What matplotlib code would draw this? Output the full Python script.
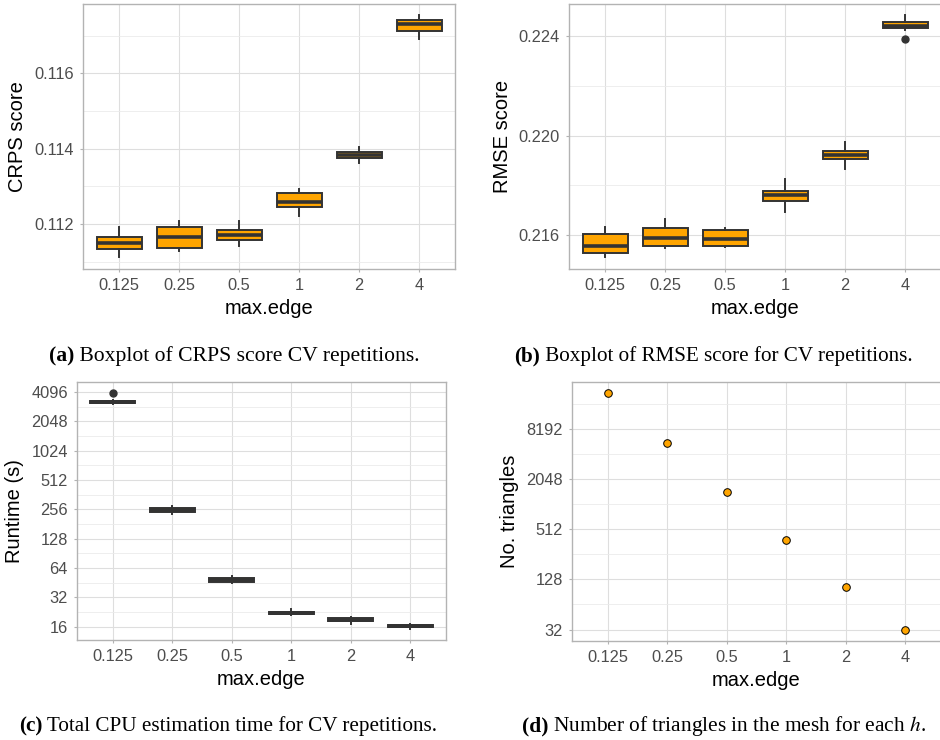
import matplotlib
matplotlib.use("Agg")
import matplotlib.pyplot as plt
from matplotlib.ticker import FixedLocator, NullFormatter

plt.rcParams['font.family'] = ['Liberation Sans', 'DejaVu Sans']
plt.rcParams['mathtext.fontset'] = 'stix'

# categories
edges = ["0.125", "0.25", "0.5", "1", "2", "4"]

# (a) CRPS boxplot stats
crps_lo = [0.11113, 0.11128, 0.11141, 0.11222, 0.11362, 0.11691]
crps_q1 = [0.11133, 0.11135, 0.11157, 0.11245, 0.11374, 0.11712]
crps_med = [0.11149, 0.11165, 0.11171, 0.11258, 0.11383, 0.11731]
crps_q3 = [0.11165, 0.11191, 0.11183, 0.11282, 0.11391, 0.11742]
crps_hi = [0.11191, 0.11208, 0.11208, 0.11293, 0.11404, 0.11755]
crps_out = [[], [], [], [], [], []]

# (b) RMSE boxplot stats
rmse_lo = [0.21510, 0.21546, 0.21550, 0.21693, 0.21865, 0.22427]
rmse_q1 = [0.21529, 0.21556, 0.21557, 0.21738, 0.21905, 0.22432]
rmse_med = [0.21556, 0.21587, 0.21583, 0.21760, 0.21923, 0.22440]
rmse_q3 = [0.21603, 0.21627, 0.21620, 0.21779, 0.21940, 0.22456]
rmse_hi = [0.21631, 0.21663, 0.21630, 0.21825, 0.21976, 0.22484]
rmse_out = [[], [], [], [], [], [0.22390]]

# (c) runtime boxplot stats (seconds)
time_lo = [3080, 230, 45.0, 21.1, 17.05, 15.3]
time_q1 = [3130, 240, 46.0, 21.6, 18.2, 15.9]
time_med = [3230, 253, 48.3, 22.1, 18.75, 16.27]
time_q3 = [3300, 263, 50.5, 22.6, 19.5, 16.6]
time_hi = [3350, 274, 53.0, 24.1, 19.97, 16.9]
time_out = [[4028], [], [], [], [], []]

# (d) number of triangles
n_tri = [22010, 5560, 1444, 376, 103, 32]

ORANGE = "#FFA500"
DARK = "#333333"
BORDER = "#B3B3B3"
TICKCOL = "#4D4D4D"

W, H = 940, 740
fig = plt.figure(figsize=(9.4, 7.4), dpi=100)


def add_ax(left, top, right, bottom):
    return fig.add_axes([left / W, 1 - bottom / H, (right - left) / W, (bottom - top) / H])


def style(ax, ylabel, ypad):
    ax.set_xlim(0.4, 6.6)
    ax.set_xticks(range(1, 7))
    ax.set_xticklabels(edges)
    for s in ax.spines.values():
        s.set_color(BORDER)
        s.set_linewidth(1.0)
    ax.grid(True, which='major', color='#DEDEDE', lw=0.8)
    ax.grid(True, which='minor', axis='y', color='#EBEBEB', lw=0.6)
    ax.set_axisbelow(True)
    ax.tick_params(which='major', length=2.5, width=0.8, color=BORDER,
                   labelcolor=TICKCOL, labelsize=11.8, pad=4)
    ax.tick_params(which='minor', length=0)
    ax.set_xlabel("max.edge", fontsize=14.5, labelpad=4)
    ax.set_ylabel(ylabel, fontsize=14.5, labelpad=ypad)


def boxes(ax, lo, q1, med, q3, hi, out):
    stats = []
    for i in range(len(edges)):
        stats.append(dict(whislo=lo[i], q1=q1[i], med=med[i], q3=q3[i],
                          whishi=hi[i], fliers=out[i]))
    ax.bxp(stats, positions=range(1, 7), widths=0.75, patch_artist=True,
           showcaps=False,
           boxprops=dict(facecolor=ORANGE, edgecolor=DARK, linewidth=1.4),
           whiskerprops=dict(color=DARK, linewidth=1.4),
           medianprops=dict(color=DARK, linewidth=2.6, solid_capstyle='butt'),
           flierprops=dict(marker='o', markerfacecolor=DARK, markeredgecolor=DARK,
                           markersize=5))


# (a)
ax1 = add_ax(83, 4, 455, 269)
boxes(ax1, crps_lo, crps_q1, crps_med, crps_q3, crps_hi, crps_out)
ax1.set_ylim(0.110805, 0.11784)
ax1.set_yticks([0.112, 0.114, 0.116])
ax1.set_yticklabels(["0.112", "0.114", "0.116"])
ax1.yaxis.set_minor_locator(FixedLocator([0.111, 0.113, 0.115, 0.117]))
style(ax1, "CRPS score", 5)

# (b)
ax2 = add_ax(569, 4, 941, 269)
boxes(ax2, rmse_lo, rmse_q1, rmse_med, rmse_q3, rmse_hi, rmse_out)
ax2.set_ylim(0.21463, 0.2253)
ax2.set_yticks([0.216, 0.220, 0.224])
ax2.set_yticklabels(["0.216", "0.220", "0.224"])
ax2.yaxis.set_minor_locator(FixedLocator([0.218, 0.222]))
style(ax2, "RMSE score", 5)

# (c)
ax3 = add_ax(77, 382, 446, 640)
boxes(ax3, time_lo, time_q1, time_med, time_q3, time_hi, time_out)
ax3.set_yscale('log', base=2)
ax3.set_ylim(11.7, 5180)
ticks_c = [16, 32, 64, 128, 256, 512, 1024, 2048, 4096]
ax3.set_yticks(ticks_c)
ax3.set_yticklabels([str(t) for t in ticks_c])
ax3.yaxis.set_minor_locator(FixedLocator([t * 2 ** 0.5 for t in ticks_c]))
ax3.yaxis.set_minor_formatter(NullFormatter())
style(ax3, "Runtime (s)", 5)

# (d)
ax4 = add_ax(572, 382, 941, 641)
ax4.scatter(range(1, 7), n_tri, s=30, color=ORANGE, edgecolors='black',
            linewidths=0.7, zorder=3)
ax4.set_yscale('log', base=2)
ax4.set_ylim(23.3, 29840)
ticks_d = [32, 128, 512, 2048, 8192]
ax4.set_yticks(ticks_d)
ax4.set_yticklabels([str(t) for t in ticks_d])
ax4.yaxis.set_minor_locator(FixedLocator([t * 2 for t in ticks_d]))
ax4.yaxis.set_minor_formatter(NullFormatter())
style(ax4, "No. triangles", 5)


# captions: bold label + regular text, centred
renderer = fig.canvas.get_renderer()


def caption(xc, y_base, label, rest, size=15.6):
    kw = dict(family=['Liberation Serif', 'DejaVu Serif'], fontsize=size,
              va='baseline', ha='left')
    t1 = fig.text(0, 1 - y_base / H, label, weight='bold', **kw)
    t2 = fig.text(0, 1 - y_base / H, rest, **kw)
    w1 = t1.get_window_extent(renderer).width
    w2 = t2.get_window_extent(renderer).width
    x0 = xc - (w1 + w2) / 2
    t1.set_x(x0 / W)
    t2.set_x((x0 + w1) / W)


caption(234, 361, "(a)", " Boxplot of CRPS score CV repetitions.")
caption(713, 361, "(b)", " Boxplot of RMSE score for CV repetitions.", 15.2)
caption(228, 731, "(c)", " Total CPU estimation time for CV repetitions.", 15.2)
caption(724, 731, "(d)", " Number of triangles in the mesh for each $h$.", 15.4)

fig.savefig("out.png", dpi=100)
